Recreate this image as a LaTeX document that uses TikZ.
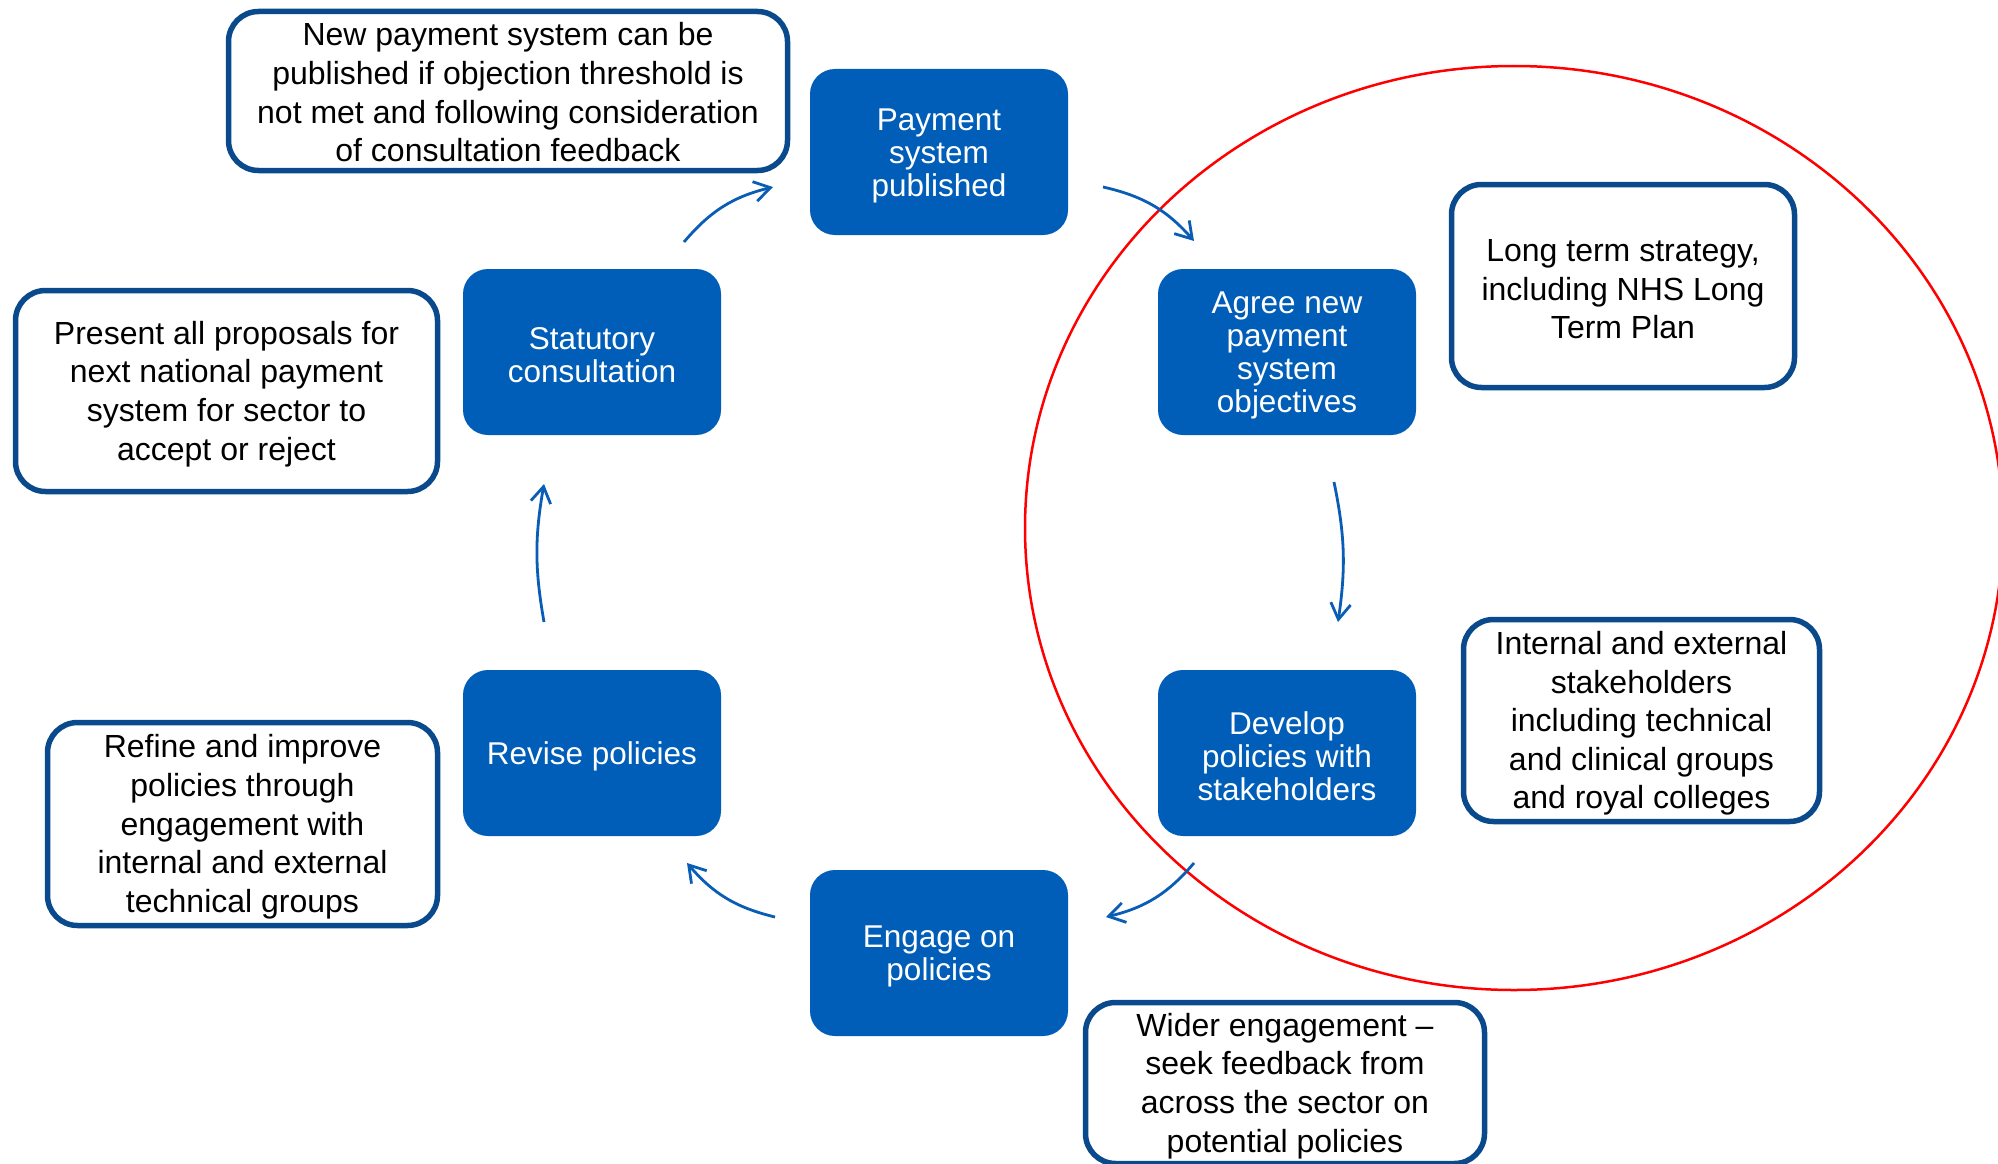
\documentclass[tikz,border=0pt]{standalone}
\usepackage{fontspec}
\setmainfont{Liberation Sans}
\usetikzlibrary{arrows.meta}
\definecolor{nhsblue}{HTML}{005EB8}
\definecolor{darkblue}{HTML}{0A4A8C}
\definecolor{arrowblue}{HTML}{0A5DB5}
\newcommand\dnstrut{\rule{0pt}{29pt}}
\begin{document}
\begin{tikzpicture}[x=1pt,y=1pt,
  stage/.style={fill=nhsblue, rounded corners=25pt, minimum width=258pt, minimum height=166pt, text=white, align=center, font=\fontsize{31.5}{33}\selectfont, inner sep=0pt},
  note/.style={draw=darkblue, line width=5.5pt, fill=white, rounded corners=30pt, align=center, font=\fontsize{32}{38.6}\selectfont, inner sep=0pt},
  arr/.style={draw=arrowblue, line width=2.8pt, -{Straight Barb[length=16pt,width=20pt]}},
]
\useasboundingbox (0,0) rectangle (1998,-1164);
\clip (0,0) rectangle (1998,-1164);
\fill[white] (0,0) rectangle (1998,-1164);

% red ring
\draw[red, line width=2.5pt] (1514,-528) ellipse [x radius=489, y radius=462];

% stages
\node[stage] (psp)  at (939,-152)  {\dnstrut Payment\\system\\published};
\node[stage] (agree) at (1287,-352) {\dnstrut Agree new\\payment\\system\\objectives};
\node[stage] (dev)  at (1287,-753) {\dnstrut Develop\\policies with\\stakeholders};
\node[stage] (eng)  at (939,-953)  {\dnstrut Engage on\\policies};
\node[stage] (rev)  at (592,-753)  {\dnstrut Revise policies};
\node[stage] (stat) at (592,-352)  {\dnstrut Statutory\\consultation};

% notes
\node[note, minimum width=559pt, minimum height=159pt] (ntop) at (508,-91)
  {\rule{0pt}{26pt}New payment system can be\\published if objection threshold is\\not met and following consideration\\of consultation feedback};
\node[note, minimum width=422pt, minimum height=201pt] (npres) at (226.5,-391)
  {\dnstrut Present all proposals for\\next national payment\\system for sector to\\accept or reject};
\node[note, minimum width=343pt, minimum height=203pt] (nlong) at (1623,-286)
  {\dnstrut Long term strategy,\\including NHS Long\\Term Plan};
\node[note, minimum width=356pt, minimum height=202pt] (nint) at (1641.5,-720.5)
  {\dnstrut Internal and external\\stakeholders\\including technical\\and clinical groups\\and royal colleges};
\node[note, minimum width=390pt, minimum height=203pt] (nref) at (242.5,-824)
  {\dnstrut Refine and improve\\policies through\\engagement with\\internal and external\\technical groups};
\node[note, minimum width=399pt, minimum height=161pt] (nwid) at (1285,-1083)
  {\dnstrut Wider engagement --\\seek feedback from\\across the sector on\\potential policies};

% arrow ends
\coordinate (a1s) at (684,-242);  \coordinate (a1e) at (773,-187);
\coordinate (a2s) at (1103,-187); \coordinate (a2e) at (1194,-241);
\coordinate (a3s) at (1334,-482); \coordinate (a3e) at (1338,-622);
\coordinate (a4s) at (1194,-863); \coordinate (a4e) at (1106,-917);
\coordinate (a5s) at (775,-917);  \coordinate (a5e) at (687,-863);
\coordinate (a6s) at (544,-622);  \coordinate (a6e) at (544,-484);

\draw[arr] (a1s) to[bend left=18] (a1e);
\draw[arr] (a2s) to[bend left=18] (a2e);
\draw[arr] (a3s) to[bend left=10] (a3e);
\draw[arr] (a4s) to[bend left=18] (a4e);
\draw[arr] (a5s) to[bend left=18] (a5e);
\draw[arr] (a6s) to[bend left=10] (a6e);
\end{tikzpicture}
\end{document}
